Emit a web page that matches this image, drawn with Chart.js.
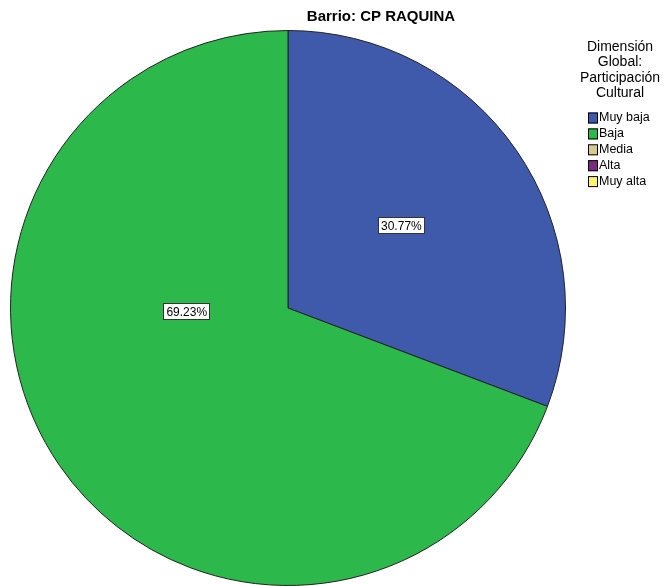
<!DOCTYPE html>
<html>
<head>
<meta charset="utf-8">
<script src="https://cdn.jsdelivr.net/npm/chart.js@4/dist/chart.umd.min.js"></script>
<style>
  html, body { margin: 0; padding: 0; background: #fff; }
  #wrap { width: 665px; height: 586px; position: relative; }
</style>
</head>
<body>
<div id="wrap"><canvas id="pie"></canvas></div>
<script>
// data (13 cases: 4 + 9)
const categories = ['Muy baja', 'Baja', 'Media', 'Alta', 'Muy alta'];
const counts = [4, 9, 0, 0, 0];
const colors = ['#3f59ab', '#2db84b', '#d3cb8f', '#7c2a80', '#fbf46c'];
const chartTitle = 'Barrio: CP RAQUINA';
const legendTitle = ['Dimensión', 'Global:', 'Participación', 'Cultural'];
// where SPSS put each percent box (angle in degrees, fraction of radius)
const labelSpots = [[-36, 0.505], [178, 0.365]];

const total = counts.reduce((a, b) => a + b, 0);

const spssDecor = {
  id: 'spssDecor',
  afterDraw(chart) {
    const ctx = chart.ctx;
    ctx.save();
    // title
    ctx.fillStyle = '#000';
    ctx.font = 'bold 15px "Liberation Sans", Arial, sans-serif';
    ctx.textAlign = 'center';
    ctx.textBaseline = 'middle';
    ctx.fillText(chartTitle, 381, 17);

    // legend title
    ctx.font = '14px "Liberation Sans", Arial, sans-serif';
    legendTitle.forEach(function (line, i) {
      ctx.fillText(line, 620, 47 + i * 15.5);
    });

    // legend items
    ctx.font = '12.5px "Liberation Sans", Arial, sans-serif';
    ctx.textAlign = 'left';
    categories.forEach(function (c, i) {
      const y = 118 + i * 15.9;
      ctx.fillStyle = colors[i];
      ctx.fillRect(588, y - 5.5, 10, 11);
      ctx.strokeStyle = '#000';
      ctx.lineWidth = 1;
      ctx.strokeRect(588.5, y - 5, 9, 10);
      ctx.fillStyle = '#000';
      ctx.fillText(c, 599, y);
    });

    // percent boxes
    const meta = chart.getDatasetMeta(0);
    ctx.font = '12px "Liberation Sans", Arial, sans-serif';
    ctx.textAlign = 'center';
    meta.data.forEach(function (arc, i) {
      if (!counts[i] || !labelSpots[i]) return;
      const a = labelSpots[i][0] * Math.PI / 180;
      const r = arc.outerRadius * labelSpots[i][1];
      const x = arc.x + Math.cos(a) * r;
      const y = arc.y + Math.sin(a) * r;
      const txt = (counts[i] / total * 100).toFixed(2) + '%';
      const w = ctx.measureText(txt).width + 6;
      const h = 17;
      ctx.fillStyle = '#fff';
      ctx.fillRect(Math.round(x - w / 2), Math.round(y - h / 2), Math.round(w), h);
      ctx.strokeStyle = '#333';
      ctx.strokeRect(Math.round(x - w / 2) + 0.5, Math.round(y - h / 2) + 0.5, Math.round(w) - 1, h - 1);
      ctx.fillStyle = '#000';
      ctx.fillText(txt, x, y + 1);
    });
    ctx.restore();
  }
};

new Chart(document.getElementById('pie'), {
  type: 'pie',
  data: {
    labels: categories,
    datasets: [{
      data: counts,
      backgroundColor: colors,
      borderColor: '#222',
      borderWidth: 1
    }]
  },
  options: {
    responsive: true,
    maintainAspectRatio: false,
    animation: false,
    layout: { padding: { left: 10, right: 99, top: 30, bottom: 0 } },
    plugins: {
      legend: { display: false },
      title: { display: false },
      tooltip: { enabled: false }
    }
  },
  plugins: [spssDecor]
});
</script>
</body>
</html>
